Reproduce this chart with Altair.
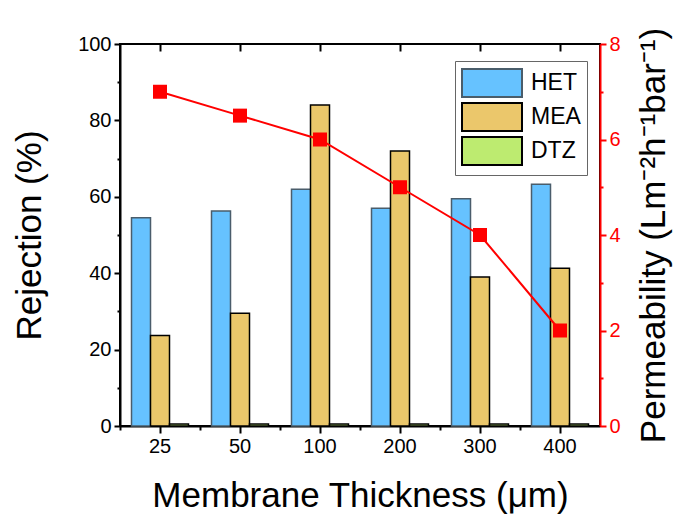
import altair as alt
import pandas as pd

thickness = ["25", "50", "100", "200", "300", "400"]
het = [54.5, 56.3, 62.0, 57.0, 59.5, 63.3]
mea = [23.7, 29.5, 84.0, 72.0, 39.0, 41.3]
dtz = [0.5, 0.5, 0.5, 0.5, 0.5, 0.5]
perm = [7.0, 6.5, 6.0, 5.0, 4.0, 2.0]
series = ["HET", "MEA", "DTZ"]
fills = ["#66C2FF", "#EBC76B", "#BDEB70"]
strokes = ["#4A5D6B", "#000000", "#000000"]

rows = []
for name, vals in zip(series, [het, mea, dtz]):
    for t, v in zip(thickness, vals):
        rows.append({"thickness": t, "series": name, "value": v})
bars_df = pd.DataFrame(rows)
line_df = pd.DataFrame({"thickness": thickness, "perm": perm})

FONT = "Liberation Sans"
xscale = alt.Scale(domain=thickness, paddingInner=0.2875, paddingOuter=0.14375)

SYMBOL = "M-1,-0.93H3V0.93H-1Z"


def make_legend():
    return alt.Legend(title=None, orient="none", legendX=335, legendY=17,
                      symbolType=SYMBOL, symbolSize=900,
                      symbolStrokeWidth=2, labelFontSize=23, labelFont=FONT,
                      labelColor="black", strokeColor="#666666", fillColor="white",
                      padding=6, rowPadding=-4, labelOffset=38)


bars = alt.Chart(bars_df).mark_bar(strokeWidth=1.5).encode(
    x=alt.X("thickness:N", sort=thickness, scale=xscale,
            axis=alt.Axis(orient="bottom", labels=False, domain=False, title=None,
                          tickOffset=-40, tickSize=4, tickWidth=2, tickColor="black")),
    xOffset=alt.XOffset("series:N", sort=series, scale=alt.Scale(domain=series)),
    y=alt.Y("value:Q", scale=alt.Scale(domain=[0, 100], nice=False),
            axis=alt.Axis(orient="left", values=list(range(0, 101, 10)),
                          labelExpr="datum.value % 20 == 0 ? datum.label : ''",
                          tickSize={"condition": {"test": "datum.value % 20 == 0", "value": 6}, "value": 3},
                          tickWidth=2, tickColor="black", domainColor="black", domainWidth=2,
                          labelFontSize=20, labelColor="black", labelFont=FONT, labelPadding=3,
                          grid=False, title="Rejection (%)", titleFontSize=35, titleFont=FONT,
                          titleFontWeight="normal", titleColor="black", titlePadding=30)),
    fill=alt.Fill("series:N", sort=series, scale=alt.Scale(domain=series, range=fills),
                  legend=make_legend()),
    stroke=alt.Stroke("series:N", sort=series, scale=alt.Scale(domain=series, range=strokes),
                      legend=make_legend()),
)

line = alt.Chart(line_df).mark_line(color="red", strokeWidth=2,
                                    point=alt.OverlayMarkDef(shape="square", size=196, filled=True,
                                                             color="red", opacity=1)).encode(
    x=alt.X("thickness:N", sort=thickness, scale=xscale,
            axis=alt.Axis(orient="bottom", labelAngle=0, tickSize=7, tickWidth=2, tickColor="black",
                          domainColor="black", domainWidth=2, labelFontSize=20, labelFont=FONT,
                          labelColor="black", labelPadding=3, title="Membrane Thickness (μm)",
                          titleFontSize=35, titleFont=FONT, titleFontWeight="normal",
                          titleColor="black", titlePadding=22)),
    y=alt.Y("perm:Q", scale=alt.Scale(domain=[0, 8], nice=False),
            axis=alt.Axis(orient="right", values=list(range(0, 9)),
                          labelExpr="datum.value % 2 == 0 ? datum.label : ''",
                          tickSize={"condition": {"test": "datum.value % 2 == 0", "value": 6}, "value": 3},
                          tickWidth=2, tickColor="red", domainColor="red", domainWidth=2,
                          labelFontSize=20, labelColor="red", labelFont=FONT, labelPadding=3,
                          grid=False, title="Permeability (Lm⁻²h⁻¹bar⁻¹)", titleFontSize=35,
                          titleFont=FONT, titleFontWeight="normal", titleColor="black",
                          titleAngle=270, titleBaseline="top", titlePadding=16)),
)

top_ticks = alt.Chart(line_df).mark_point(opacity=0).encode(
    x=alt.X("thickness:N", sort=thickness, scale=xscale,
            axis=alt.Axis(orient="top", labels=False, domain=False, title=None, offset=-7,
                          tickSize=7, tickWidth=2, tickColor="black")),
)

chart = alt.layer(bars, line, top_ticks).resolve_scale(
    y="independent"
).resolve_axis(
    x="independent", y="independent"
).properties(
    width=480, height=382,
    autosize=alt.AutoSizeParams(type="none"),
    padding={"left": 120, "top": 44, "right": 82, "bottom": 96},
).configure_view(stroke="black", strokeWidth=2)

chart.save("out.html", embed_options={"renderer": "svg", "actions": False})
